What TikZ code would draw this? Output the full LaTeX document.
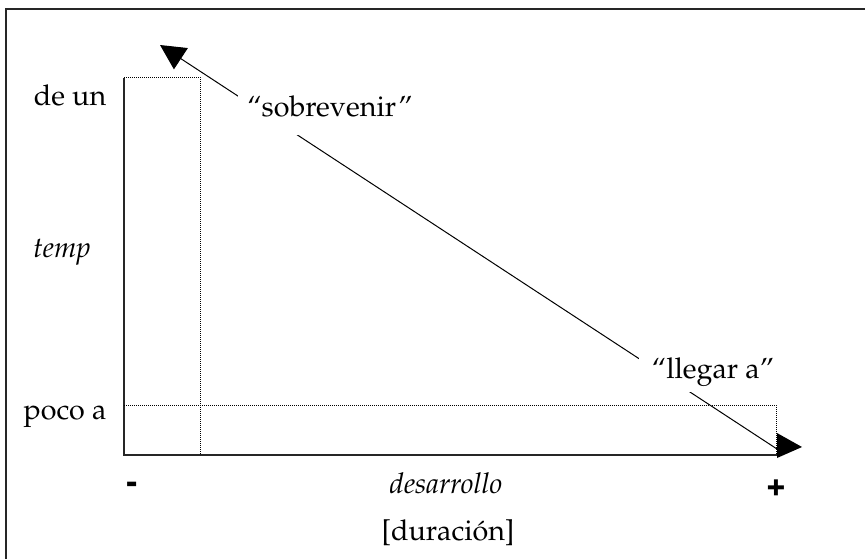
\documentclass[tikz,border=0pt]{standalone}
\usepackage[T1]{fontenc}
\usepackage{mathpazo}
\usepackage[scaled=0.92]{helvet}
\usetikzlibrary{arrows.meta, calc}

\tikzstyle{frame} = [line width=1.3pt, draw=black!85]
\tikzstyle{axis} = [line width=1.1pt, draw=black!85]
\tikzstyle{guide} = [line width=0.7pt, dash pattern=on 0.7pt off 0.8pt]
\tikzstyle{levels} = [inner sep=0pt, anchor=base, font=\fontsize{21.5}{26}\selectfont]
\tikzstyle{signs} = [inner sep=0pt, font=\fontsize{27}{30}\selectfont\sffamily\bfseries]
\tikzstyle{verbo} = [anchor=base, fill=white, text depth=0pt, font=\fontsize{21.5}{26}\selectfont]
\tikzstyle{arrow} = [line width=0.75pt, -{Triangle[length=18.75pt, width=18.9pt]}]

\begin{document}
\begin{tikzpicture}[x=0.75pt, y=-0.75pt]

\useasboundingbox (0,0) rectangle (865,558);
\clip (0,0) rectangle (865,558);
\draw[frame] (6,9) rectangle (900,600);

% Axes
\coordinate (origin) at (124,455);
\coordinate (ytop) at (124,78);
\coordinate (xend) at (777,455);
\draw[axis] (ytop) -- (origin) -- (xend);

% Guides
\draw[guide] (124,77) -| (200,455);
\draw[guide] (124,405) -| (776,455);

% Labels of the axes
\node (deun) [levels] at (70,105) {de un};
\node (temp) [levels] at (62,257) {\itshape temp};
\node (poco) [levels] at (65,419) {poco a};
\node (minus) [signs] at (132,488) {-};
\node (plus) [signs] at (776,487) {+};
\node (desarrollo) [levels] at (446,493) {\itshape desarrollo};
\node (duracion) [levels] at (448,540) {[duraci\'on]};

% Diagonal
\coordinate (high) at (160,45);
\coordinate (low) at (777,449);
\draw[arrow] (low) -- (high);
\fill ($(low)+(0,-16)$) -- ($(low)+(25,-2)$) -- ($(low)+(0,9)$) -- cycle;

\node (sobrevenir) [verbo, inner xsep=6.75pt, inner ysep=14pt] at (330,116) {``sobrevenir''};
\node (llegar) [verbo, inner xsep=10pt, inner ysep=10.5pt] at (713,378) {``llegar a''};

\end{tikzpicture}
\end{document}
